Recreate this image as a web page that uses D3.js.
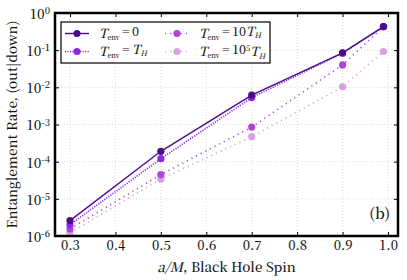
<!DOCTYPE html>
<html>
<head>
<meta charset="utf-8">
<script src="https://cdn.jsdelivr.net/npm/d3@7"></script>
<style>
  body { margin: 0; background: #fff; }
  svg { display: block; }
</style>
</head>
<body>
<svg id="chart"></svg>
<script>
var W = 407, H = 280;
var margin = {left: 55, right: 9, top: 13, bottom: 44};
var FONT = "'Noto Serif CJK SC', 'Liberation Serif', serif";

var spins = [0.3, 0.5, 0.7, 0.9, 0.99];
var rateT0 = [2.6e-6, 1.9e-4, 6.2e-3, 8.5e-2, 0.43];
var rateTH = [2.0e-6, 1.2e-4, 5.3e-3, 8.3e-2, 0.43];
var rate10TH = [1.55e-6, 4.5e-5, 8.5e-4, 4.0e-2, 0.43];
var rate1e5TH = [1.2e-6, 3.4e-5, 4.7e-4, 1.03e-2, 9.2e-2];

var xTicks = [0.3, 0.4, 0.5, 0.6, 0.7, 0.8, 0.9, 1.0];
var yExps = [-6, -5, -4, -3, -2, -1, 0];

var series = [
    {vals: rateT0, color: "#4b0c8c", dash: null, label: "0"},
    {vals: rateTH, color: "#8a2be2", dash: "1.2,1.3", label: "TH"},
    {vals: rate10TH, color: "#b144d4", dash: "1.2,4", label: "10TH"},
    {vals: rate1e5TH, color: "#dc9fe2", dash: "1.2,4", label: "1e5TH"}
];

var svg = d3.select("#chart").attr("width", W).attr("height", H);
var pw = W - margin.left - margin.right, ph = H - margin.top - margin.bottom;
var g = svg.append("g").attr("transform", "translate(" + margin.left + "," + margin.top + ")");

var x = d3.scaleLinear().domain([0.267, 1.022]).range([0, pw]);
var y = d3.scaleLog().domain([1e-6, 1]).range([ph, 0]);

//网格
g.selectAll(".gx").data(xTicks).enter().append("line")
    .attr("x1", function(d) { return x(d); }).attr("x2", function(d) { return x(d); })
    .attr("y1", 0).attr("y2", ph)
    .attr("stroke", "#d0d0d0").attr("stroke-width", 0.8).attr("stroke-dasharray", "1,2");
g.selectAll(".gy").data(yExps).enter().append("line")
    .attr("y1", function(d) { return y(Math.pow(10, d)); }).attr("y2", function(d) { return y(Math.pow(10, d)); })
    .attr("x1", 0).attr("x2", pw)
    .attr("stroke", "#d0d0d0").attr("stroke-width", 0.8).attr("stroke-dasharray", "1,2");

//坐标轴
var xAxis = d3.axisBottom(x).tickValues(xTicks).tickSizeInner(-4).tickSizeOuter(0).tickPadding(5)
    .tickFormat(d3.format(".1f"));
var gx = g.append("g").attr("transform", "translate(0," + ph + ")").call(xAxis);
gx.select(".domain").remove();
gx.selectAll("text").attr("font-size", 13).attr("fill", "#111").attr("font-weight", 500)
    .style("font-family", FONT);
g.append("g").call(d3.axisTop(x).tickValues(xTicks).tickSizeInner(-4).tickSizeOuter(0).tickFormat(""))
    .select(".domain").remove();

var yAxis = d3.axisLeft(y).tickValues(yExps.map(function(e) { return Math.pow(10, e); }))
    .tickSizeInner(-4).tickSizeOuter(0).tickFormat("");
var gy = g.append("g").call(yAxis);
gy.select(".domain").remove();
gy.selectAll(".tick").each(function(d) {
    var t = d3.select(this).append("text").attr("x", -5).attr("dy", "0.4em")
        .attr("text-anchor", "end").attr("fill", "#111").attr("font-size", 13.5).attr("font-weight", 500)
        .style("font-family", FONT);
    var e = Math.round(Math.log10(d));
    t.append("tspan").text("10");
    t.append("tspan").attr("dy", "-0.5em").attr("font-size", 9.5).text(e === 0 ? "0" : "-" + (-e));
});
g.append("g").attr("transform", "translate(" + pw + ",0)")
    .call(d3.axisRight(y).tickValues(yExps.map(function(e) { return Math.pow(10, e); }))
        .tickSizeInner(-4).tickSizeOuter(0).tickFormat(""))
    .select(".domain").remove();

//曲线
var line = d3.line()
    .x(function(d, i) { return x(spins[i]); })
    .y(function(d) { return y(d); });
series.slice().reverse().forEach(function(s) {
    g.append("path").datum(s.vals).attr("d", line)
        .attr("fill", "none").attr("stroke", s.color).attr("stroke-width", s.dash ? 1.6 : 1.4)
        .attr("stroke-dasharray", s.dash);
    g.selectAll(null).data(s.vals).enter().append("circle")
        .attr("cx", function(d, i) { return x(spins[i]); })
        .attr("cy", function(d) { return y(d); })
        .attr("r", 3.6).attr("fill", s.color);
});

//边框
g.append("rect").attr("width", pw).attr("height", ph)
    .attr("fill", "none").attr("stroke", "#000").attr("stroke-width", 2.5);

//图例
var leg = g.append("g").attr("transform", "translate(6,9)");
leg.append("rect").attr("width", 209).attr("height", 41)
    .attr("fill", "#fff").attr("stroke", "#000").attr("stroke-width", 1.2);
var legPos = [[4, 11.5], [4, 29.5], [104, 11.5], [104, 29.5]];
series.forEach(function(s, i) {
    var p = legPos[i];
    var item = leg.append("g").attr("transform", "translate(" + p[0] + "," + p[1] + ")");
    item.append("line").attr("x1", 0).attr("x2", 24).attr("y1", 0).attr("y2", 0)
        .attr("stroke", s.color).attr("stroke-width", s.dash ? 1.6 : 1.4).attr("stroke-dasharray", s.dash);
    item.append("circle").attr("cx", 12).attr("cy", 0).attr("r", 3.6).attr("fill", s.color);
    var t = item.append("text").attr("x", 34).attr("dy", "0.35em").attr("font-size", 12.5)
        .attr("font-weight", 500).attr("fill", "#111").style("font-family", FONT);
    t.append("tspan").attr("font-style", "italic").text("T");
    t.append("tspan").attr("font-size", 7).attr("dy", "0.3em").text("env");
    t.append("tspan").attr("dy", "-0.3em").text("\u2009=\u2009");
    if (s.label === "0") {
        t.append("tspan").text("0");
    } else if (s.label === "TH") {
        t.append("tspan").attr("font-style", "italic").text("T");
        t.append("tspan").attr("font-size", 7.5).attr("font-style", "italic").attr("dy", "0.3em").text("H");
    } else if (s.label === "10TH") {
        t.append("tspan").text("10");
        t.append("tspan").attr("font-style", "italic").text("T");
        t.append("tspan").attr("font-size", 7.5).attr("font-style", "italic").attr("dy", "0.3em").text("H");
    } else {
        t.append("tspan").text("10");
        t.append("tspan").attr("font-size", 7.5).attr("dy", "-0.45em").text("5");
        t.append("tspan").attr("font-style", "italic").attr("dy", "0.45em").text("T");
        t.append("tspan").attr("font-size", 7.5).attr("font-style", "italic").attr("dy", "0.3em").text("H");
    }
});

//面板标记
g.append("text").attr("x", pw - 8).attr("y", ph - 17).attr("text-anchor", "end").attr("font-weight", 500)
    .attr("font-size", 15).attr("fill", "#111").style("font-family", FONT).text("(b)");

//轴标题
var xl = svg.append("text").attr("x", margin.left + pw / 2).attr("y", 271.5).attr("font-weight", 500)
    .attr("text-anchor", "middle").attr("font-size", 13.5).attr("fill", "#111").style("font-family", FONT);
xl.append("tspan").attr("font-style", "italic").text("a/M");
xl.append("tspan").text(", Black Hole Spin");
svg.append("text").attr("transform", "translate(17," + (margin.top + ph / 2) + ") rotate(-90)")
    .attr("text-anchor", "middle").attr("font-size", 13.5).attr("fill", "#111").attr("font-weight", 500)
    .style("font-family", FONT)
    .text("Entanglement Rate, (out|down)");
</script>
</body>
</html>
